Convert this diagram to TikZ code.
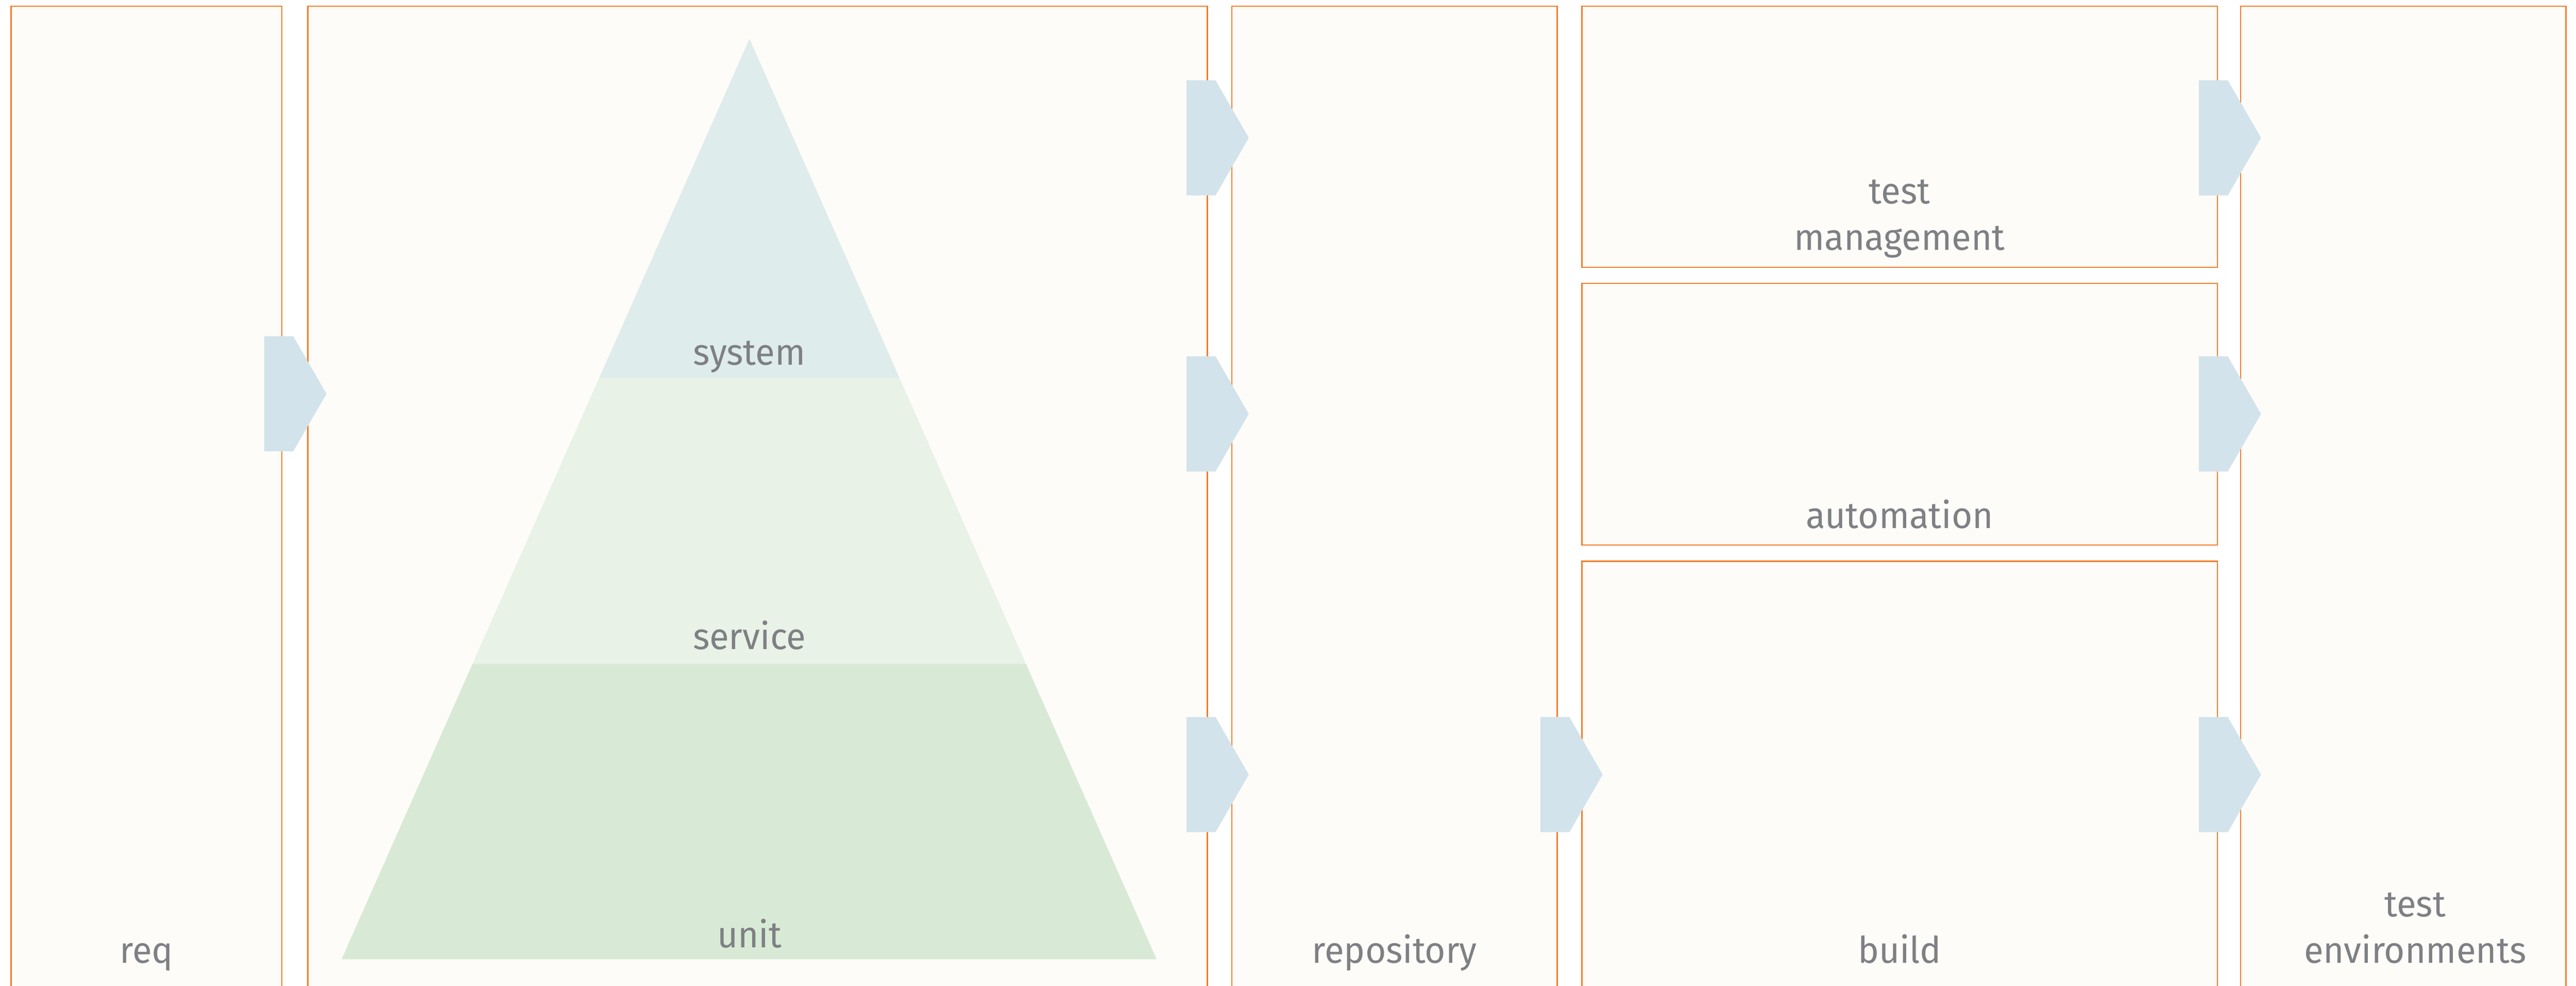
\documentclass[tikz,border=0pt]{standalone}
\usepackage{fontspec}
\setmainfont{Fira Sans}[FakeStretch=0.97]
\usepackage{tikz}
\usetikzlibrary{calc,positioning,shapes.arrows}

\definecolor{lineorange}{HTML}{F47D2B}
\definecolor{boxfill}{HTML}{FDFCF8}
\definecolor{flowblue}{HTML}{D3E3EB}
\definecolor{sysblue}{HTML}{DEECEB}
\definecolor{srvgreen}{HTML}{E8F2E7}
\definecolor{unitgreen}{HTML}{D8EAD5}
\definecolor{labelgray}{HTML}{7E8084}

\tikzset{
	stage/.style={draw=lineorange,line width=1.1pt,fill=boxfill,anchor=north west,inner sep=0pt,outer sep=0pt},
	flow/.style={single arrow,single arrow head extend=0pt,single arrow tip angle=120,fill=flowblue,
		minimum width=3.2cm,minimum height=1.73cm,inner sep=0pt,outer sep=0pt,anchor=tail},
	lbl/.style={text=labelgray,font=\fontsize{29}{36.7}\selectfont,align=center,anchor=south,inner sep=0pt,text depth=0pt}
}

\begin{document}
\begin{tikzpicture}
		\useasboundingbox (0,0) rectangle (71.56,27.38);
		\clip (0,0) rectangle (71.56,27.38);
		% columns
		\node[stage,minimum width=7.52cm,minimum height=27.8cm] (req) at (0.31,27.21) {};
		\node[stage,minimum width=24.99cm,minimum height=27.8cm] (tests) at (8.55,27.21) {};
		\node[stage,minimum width=9.04cm,minimum height=27.8cm] (repo) at (34.22,27.21) {};
		\node[stage,minimum width=17.66cm,minimum height=7.26cm] (mgmt) at (43.94,27.21) {};
		\node[stage,minimum width=17.66cm,minimum height=7.27cm] (auto) at (43.94,19.51) {};
		\node[stage,minimum width=17.66cm,minimum height=12.5cm] (build) at (43.94,11.79) {};
		\node[stage,minimum width=9.04cm,minimum height=27.8cm] (env) at (62.24,27.21) {};
		% pyramid
		\coordinate (top) at (20.82,26.30);
		\coordinate (bl) at (9.49,0.73);
		\coordinate (br) at (32.13,0.73);
		\fill[unitgreen] (bl) -- (br) -- ($(top)!0.6789!(br)$) -- ($(top)!0.6789!(bl)$) -- cycle;
		\fill[srvgreen] ($(top)!0.6789!(bl)$) -- ($(top)!0.6789!(br)$) -- ($(top)!0.3684!(br)$) -- ($(top)!0.3684!(bl)$) -- cycle;
		\fill[sysblue] ($(top)!0.3684!(bl)$) -- ($(top)!0.3684!(br)$) -- (top) -- cycle;
		\node[lbl] (lsys) at (20.82,17.24) {system};
		\node[lbl] (lsrv) at (20.82,9.33) {service};
		\node[lbl] (lunit) at (20.82,1.04) {unit};
		% labels
		\node[lbl] (lreq) at (req.north |- 0,0.62) {req};
		\node[lbl] (lrepo) at (repo.north |- 0,0.62) {repository};
		\node[lbl] (lbuild) at (build.north |- 0,0.62) {build};
		\node[lbl,above=0.47cm of mgmt.south] (lmgmt) {test\\management};
		\node[lbl,above=0.45cm of auto.south] (lauto) {automation};
		\node[lbl,xshift=0.33cm] (lenv) at (env.north |- 0,0.62) {test\\environments};
		% flow arrows
		\node[flow] (freq) at (7.34,16.44) {};
		\foreach \y [count=\i] in {23.55,15.88,5.86}
			\node[flow] (ftest\i) at (32.96,\y) {};
		\node[flow] (frepo) at (42.79,5.86) {};
		\foreach \y [count=\i] in {23.55,15.88,5.86}
			\node[flow] (fmgmt\i) at (61.08,\y) {};
	\end{tikzpicture}
\end{document}
